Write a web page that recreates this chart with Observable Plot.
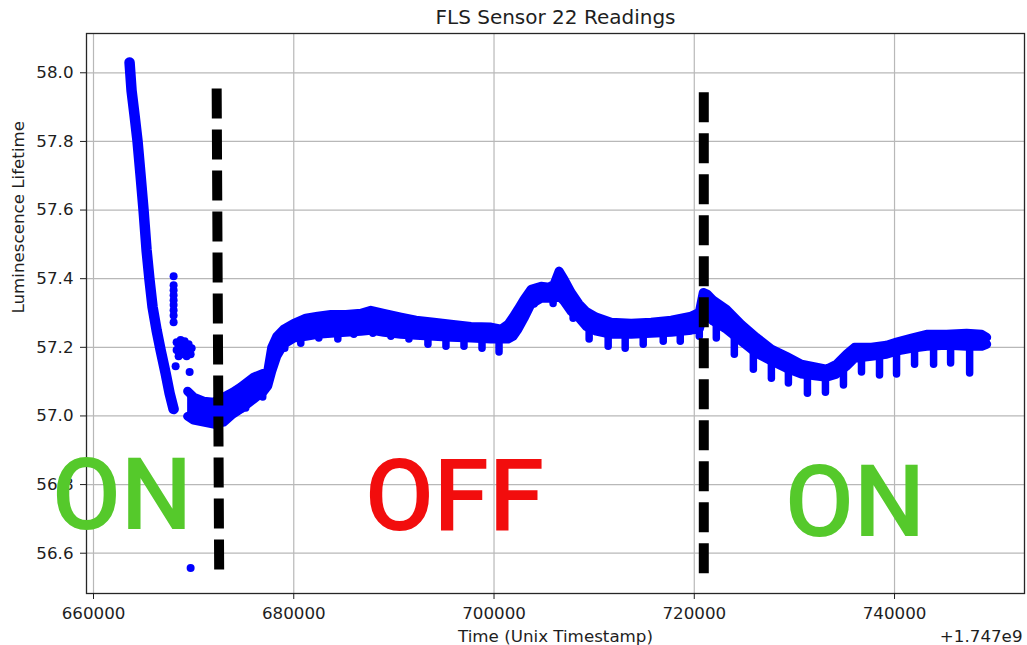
<!DOCTYPE html>
<html><head><meta charset="utf-8">
<script src="https://cdn.jsdelivr.net/npm/d3@7"></script>
<script src="https://cdn.jsdelivr.net/npm/@observablehq/plot@0.6"></script>
<style>html,body{margin:0;padding:0;background:#fff}#chart svg{display:block}</style>
</head><body><div id="chart"></div>
<script>
// ---- data ----
const xTicks = [660000, 680000, 700000, 720000, 740000];
const yTicks = [56.6, 56.8, 57.0, 57.2, 57.4, 57.6, 57.8, 58.0];

// initial steep decay (single strand of readings)
const dropTime  = [663600, 663800, 664100, 664400, 664700, 665000, 665300, 665600, 665900, 666300, 666700, 667200, 667600, 668000];
const dropValue = [58.030, 57.948, 57.876, 57.800, 57.701, 57.599, 57.483, 57.395, 57.317, 57.250, 57.192, 57.125, 57.066, 57.020];

// main dense band: upper and lower extent of readings
const bandTime  = [669400, 670000, 671000, 672000, 673000, 673900, 674700, 676000, 677000, 677400, 677800, 678300, 679000, 680000, 681200, 682400, 683700, 685200, 686700, 687700, 689000, 690700, 692200, 694000, 695700, 697700, 699700, 700700, 701400, 701900, 702400, 703000, 703700, 704700, 705500, 706000, 706500, 707000, 707700, 708500, 709200, 710200, 711700, 713700, 715700, 717700, 719700, 720500, 720900, 721300, 721900, 723200, 724700, 726200, 727700, 729200, 730700, 732200, 733200, 734200, 735200, 736000, 737700, 739200, 740200, 741700, 743200, 745200, 747200, 748700, 749200];
const bandUpper = [57.072, 57.055, 57.043, 57.040, 57.055, 57.069, 57.084, 57.113, 57.125, 57.130, 57.200, 57.232, 57.253, 57.270, 57.285, 57.291, 57.296, 57.296, 57.299, 57.308, 57.299, 57.288, 57.279, 57.273, 57.267, 57.261, 57.259, 57.253, 57.267, 57.288, 57.311, 57.340, 57.369, 57.378, 57.375, 57.384, 57.422, 57.398, 57.360, 57.326, 57.305, 57.288, 57.273, 57.270, 57.273, 57.279, 57.291, 57.302, 57.360, 57.355, 57.337, 57.311, 57.267, 57.229, 57.195, 57.174, 57.151, 57.142, 57.136, 57.151, 57.180, 57.200, 57.200, 57.206, 57.215, 57.227, 57.238, 57.238, 57.241, 57.238, 57.229];
const bandLower = [56.999, 56.988, 56.982, 56.976, 56.982, 57.005, 57.020, 57.049, 57.072, 57.087, 57.130, 57.174, 57.209, 57.227, 57.232, 57.238, 57.241, 57.244, 57.247, 57.250, 57.244, 57.238, 57.235, 57.232, 57.229, 57.227, 57.224, 57.224, 57.224, 57.232, 57.253, 57.285, 57.326, 57.343, 57.343, 57.343, 57.349, 57.334, 57.305, 57.285, 57.261, 57.247, 57.238, 57.238, 57.241, 57.244, 57.250, 57.253, 57.296, 57.291, 57.276, 57.253, 57.218, 57.183, 57.160, 57.139, 57.122, 57.116, 57.113, 57.122, 57.145, 57.168, 57.174, 57.180, 57.189, 57.197, 57.203, 57.206, 57.203, 57.203, 57.209];

// periodic downward dips below the band
const dipTime = [675200, 676900, 679100, 680700, 682500, 684400, 686000, 687900, 689700, 691500, 693400, 695200, 697000, 698800, 700500, 704000, 705900, 707900, 709500, 711400, 713100, 714900, 716900, 718600, 720500, 722200, 724000, 725900, 727700, 729400, 731300, 733100, 734900, 736700, 738500, 740200, 742000, 743900, 745600, 747500];
const dipBase = [57.040, 57.072, 57.209, 57.229, 57.238, 57.241, 57.247, 57.250, 57.241, 57.235, 57.232, 57.229, 57.227, 57.224, 57.224, 57.343, 57.343, 57.305, 57.256, 57.241, 57.238, 57.238, 57.244, 57.247, 57.253, 57.273, 57.235, 57.192, 57.160, 57.139, 57.122, 57.113, 57.139, 57.171, 57.177, 57.189, 57.197, 57.203, 57.206, 57.203];
const dipTip  = [57.023, 57.055, 57.197, 57.212, 57.227, 57.224, 57.238, 57.241, 57.232, 57.224, 57.209, 57.203, 57.203, 57.197, 57.186, 57.326, 57.328, 57.285, 57.224, 57.203, 57.197, 57.209, 57.218, 57.218, 57.232, 57.227, 57.180, 57.136, 57.110, 57.096, 57.066, 57.069, 57.090, 57.128, 57.119, 57.122, 57.151, 57.151, 57.154, 57.125];

// scattered individual readings
const strayTime  = [668000, 668000, 668000, 668000, 668000, 668000, 668000, 668000, 668000, 668300, 668700, 669100, 669500, 668300, 668700, 669100, 669500, 669800, 668500, 669300, 668500, 669000, 668900, 669300, 668500, 669700, 669000, 668200, 669600, 669700];
const strayValue = [57.407, 57.381, 57.366, 57.352, 57.337, 57.323, 57.308, 57.293, 57.273, 57.215, 57.221, 57.218, 57.209, 57.192, 57.186, 57.192, 57.186, 57.197, 57.174, 57.174, 57.200, 57.203, 57.209, 57.200, 57.186, 57.180, 57.180, 57.145, 57.128, 56.557];

// ON / OFF switch markers
const switchTop    = [672300, 720950];
const switchBottom = [672550, 720950];
const switchHigh   = [57.954, 57.943];
const switchLow    = [56.545, 56.528];

const stateLabel = ["ON", "OFF", "ON"];
const stateTime  = [662850, 696050, 736050];
const stateValue = [56.670, 56.668, 56.650];
const stateColor = {ON: "#55c92b", OFF: "#f20d0d"};

// ---- tables ----
const drop = dropTime.map((t, i) => ({t, v: dropValue[i]}));
const band = bandTime.map((t, i) => ({t, upper: bandUpper[i], lower: bandLower[i]}));
const dips = dipTime.map((t, i) => ({t, base: dipBase[i], tip: dipTip[i]}));
const stray = strayTime.map((t, i) => ({t, v: strayValue[i]}));
const switches = switchTop.map((t, i) => ({t1: t, t2: switchBottom[i], v1: switchHigh[i], v2: switchLow[i]}));
const states = stateLabel.map((s, i) => ({label: s, t: stateTime[i], v: stateValue[i]}));

const BLUE = "#0000ff";
const lineOpts = {stroke: BLUE, strokeWidth: 9, strokeLinejoin: "round", strokeLinecap: "round"};

const chart = Plot.plot({
  width: 1027, height: 645,
  marginLeft: 86, marginRight: 3, marginTop: 33, marginBottom: 52,
  x: {domain: [659300, 752980]},
  y: {domain: [56.4826, 58.1145]},
  color: {type: "identity"},
  style: {fontFamily: "DejaVu Sans", fontSize: "16.7px", color: "#1e1e1e", background: "#fff"},
  marks: [
    Plot.gridX({ticks: xTicks, stroke: "#b8b8b8", strokeOpacity: 1, strokeWidth: 1.2}),
    Plot.gridY({ticks: yTicks, stroke: "#b8b8b8", strokeOpacity: 1, strokeWidth: 1.2}),
    Plot.line(drop, {x: "t", y: "v", ...lineOpts, strokeWidth: 10.5}),
    Plot.areaY(band, {x: "t", y1: "lower", y2: "upper", fill: BLUE}),
    Plot.line(band, {x: "t", y: "upper", ...lineOpts}),
    Plot.line(band, {x: "t", y: "lower", ...lineOpts}),
    Plot.link(dips, {x1: "t", x2: "t", y1: "base", y2: "tip", stroke: BLUE, strokeWidth: 7.5, strokeLinecap: "round"}),
    Plot.dot(stray, {x: "t", y: "v", r: 4, fill: BLUE}),
    Plot.link(switches, {x1: "t1", y1: "v1", x2: "t2", y2: "v2", stroke: "#000", strokeWidth: 10, strokeDasharray: "30 11"}),
    Plot.frame({stroke: "#262626", strokeWidth: 1.3}),
    Plot.axisX({ticks: xTicks, tickSize: 6, tickPadding: 8, tickFormat: d => String(d), label: null}),
    Plot.axisY({ticks: yTicks, tickSize: 6, tickPadding: 7, tickFormat: d => d.toFixed(1), label: null}),
    Plot.text(["FLS Sensor 22 Readings"], {frameAnchor: "top", dy: -16, fontSize: 20, lineAnchor: "middle"}),
    Plot.text(["Time (Unix Timestamp)"], {frameAnchor: "bottom", dy: 43, lineAnchor: "middle"}),
    Plot.text(["+1.747e9"], {frameAnchor: "bottom-right", dx: -2, dy: 43, textAnchor: "end", lineAnchor: "middle"}),
    Plot.text(["Luminescence Lifetime"], {frameAnchor: "left", dx: -68, rotate: -90, lineAnchor: "middle"}),
    Plot.text(states, {x: "t", y: "v", text: "label", fill: d => stateColor[d.label], fontSize: 100, fontFamily: "Roboto", fontWeight: 500, lineAnchor: "bottom"})
  ]
});
document.getElementById("chart").appendChild(chart);
</script>
</body></html>
